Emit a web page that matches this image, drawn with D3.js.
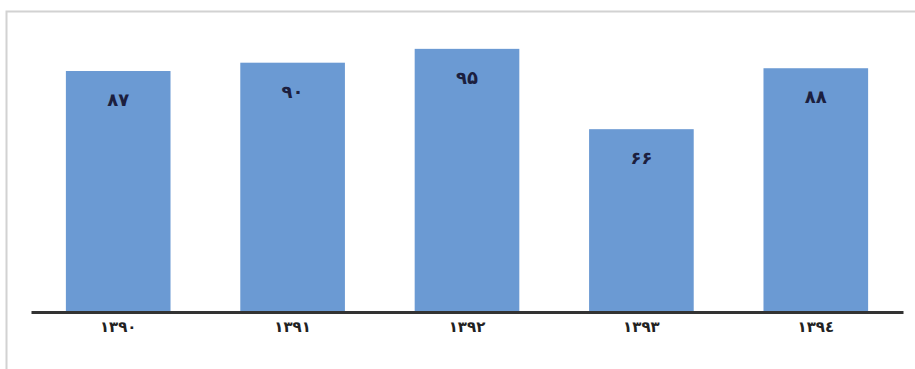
<!DOCTYPE html>
<html><head><meta charset="utf-8">
<script src="https://cdn.jsdelivr.net/npm/d3@7"></script>
<style>body{margin:0;background:#fff}svg{display:block}</style>
</head><body>
<svg id="c" width="915" height="369"></svg>
<script>
const categories = ["۱۳۹۰", "۱۳۹۱", "۱۳۹۲", "۱۳۹۳", "۱۳۹٤"];
const values = [87, 90, 95, 66, 88];
const valueLabels = ["۸۷", "۹۰", "۹۵", "۶۶", "۸۸"];

const svg = d3.select("#c");
const W = 915, H = 369;
const x = d3.scaleBand().domain(categories).range([31, 903]).paddingInner(0.4).paddingOuter(0.2);
const y = d3.scaleLinear().domain([0, 100]).range([312, 35]);

// frame
svg.append("path").attr("d", `M6.5,${H} V11.5 H${W}`).attr("fill", "none").attr("stroke", "#d2d2d2").attr("stroke-width", 2);

const data = categories.map((c, i) => ({c, v: values[i], l: valueLabels[i]}));

svg.append("g").selectAll("rect").data(data).join("rect")
  .attr("x", d => x(d.c)).attr("width", x.bandwidth())
  .attr("y", d => y(d.v)).attr("height", d => y(0) - y(d.v))
  .attr("fill", "#6b9ad3");

svg.append("g").selectAll("text").data(data).join("text")
  .attr("x", d => x(d.c) + x.bandwidth() / 2)
  .attr("y", d => y(d.v) + 35)
  .attr("text-anchor", "middle")
  .attr("font-family", "DejaVu Sans")
  .attr("font-weight", "bold")
  .attr("font-size", 18)
  .attr("fill", "#1c1f3f")
  .text(d => d.l);

const ax = svg.append("g").attr("transform", `translate(0,${y(0)})`)
  .call(d3.axisBottom(x).tickSize(0).tickPadding(9));
ax.select(".domain").attr("stroke", "#333").attr("stroke-width", 3);
ax.selectAll("text").attr("font-family", "DejaVu Sans").attr("font-weight", "bold")
  .attr("font-size", 15).attr("fill", "#222");
</script>
</body></html>
